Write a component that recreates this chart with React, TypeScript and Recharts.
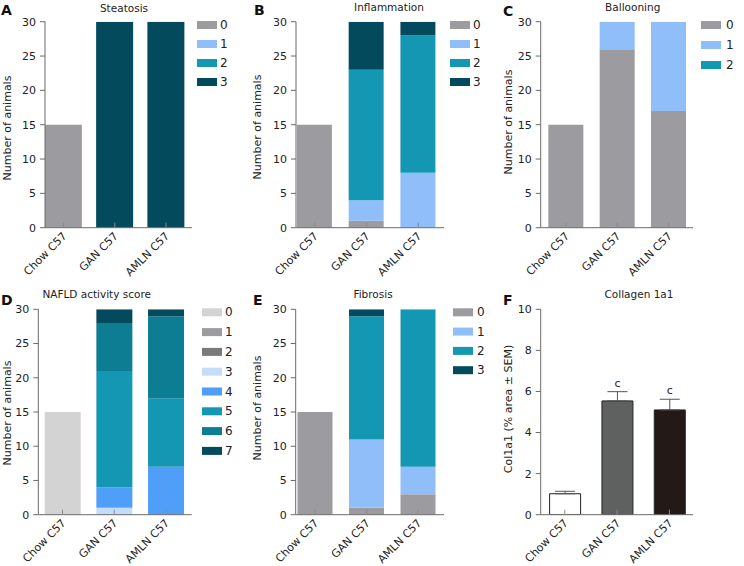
import React from 'react';
import { BarChart, Bar, XAxis, YAxis, ErrorBar, LabelList, Cell } from 'recharts';

const FONT = '"DejaVu Sans", Verdana, sans-serif';

const categories = ['Chow C57', 'GAN C57', 'AMLN C57'];
const countTicks = [0, 5, 10, 15, 20, 25, 30];
const col1a1Ticks = [0, 2, 4, 6, 8, 10];

// A - Steatosis (score 0..3)
const steatosis0 = [15, 0, 0];
const steatosis1 = [0, 0, 0];
const steatosis2 = [0, 0, 0];
const steatosis3 = [0, 30, 30];

// B - Inflammation (score 0..3)
const inflammation0 = [15, 1, 0];
const inflammation1 = [0, 3, 8];
const inflammation2 = [0, 19, 20];
const inflammation3 = [0, 7, 2];

// C - Ballooning (score 0..2)
const ballooning0 = [15, 26, 17];
const ballooning1 = [0, 4, 13];
const ballooning2 = [0, 0, 0];

// D - NAFLD activity score (0..7)
const nas0 = [15, 0, 0];
const nas1 = [0, 0, 0];
const nas2 = [0, 0, 0];
const nas3 = [0, 1, 0];
const nas4 = [0, 3, 7];
const nas5 = [0, 17, 10];
const nas6 = [0, 7, 12];
const nas7 = [0, 2, 1];

// E - Fibrosis (0..3)
const fibrosis0 = [15, 1, 3];
const fibrosis1 = [0, 10, 4];
const fibrosis2 = [0, 18, 23];
const fibrosis3 = [0, 1, 0];

// F - Collagen 1a1
const col1a1Mean = [1.02, 5.54, 5.1];
const col1a1Sem = [0.12, 0.45, 0.52];
const col1a1Sig = ['', 'c', 'c'];

const GREY = '#9c9ca0';
const LBLUE = '#90bef9';
const TEAL = '#1397b3';
const DTEAL = '#034a5d';
const scoreColors4 = [GREY, LBLUE, TEAL, DTEAL];
const nasColors = ['#d3d3d3', '#9c9ca0', '#7a7a7a', '#c5ddf8', '#4f9ef8', '#1397b3', '#0d7d94', '#034a5d'];
const col1a1Colors = ['#ffffff', '#5f6060', '#231a18'];

const AXIS = '#6a6a6a';

function buildTable(series: number[][]) {
  return categories.map((name, i) => {
    const row: any = { idx: i, name };
    series.forEach((s, k) => {
      row['s' + k] = s[i];
    });
    return row;
  });
}

const XTick = (props: any) => {
  const { x, y, payload } = props;
  const label = categories[payload.value] ?? '';
  const tx = x + 4;
  const ty = y + 9;
  return (
    <g>
      <line x1={x} y1={y} x2={x} y2={y - 5} stroke="#8a8a8a" strokeWidth={1} />
      <text
        x={tx}
        y={ty}
        textAnchor="end"
        transform={`rotate(-45, ${tx}, ${ty})`}
        fontSize={11}
        fontFamily={FONT}
        fill="#222"
      >
        {label}
      </text>
    </g>
  );
};

type Box = {
  left: number;
  top: number;
  width: number;
  height: number;
  plotLeft: number;
  plotRight: number;
  plotTop: number;
  plotBottom: number;
};

function chartMargins(b: Box) {
  const xAxisHeight = 40;
  return {
    yAxisWidth: b.plotLeft - b.left,
    xAxisHeight,
    margin: {
      top: b.plotTop - b.top,
      right: b.left + b.width - b.plotRight,
      bottom: b.top + b.height - b.plotBottom - xAxisHeight,
      left: 0,
    },
  };
}

function StackPanel({ box, series, colors, domain, barSize }: { box: Box; series: number[][]; colors: string[]; domain: [number, number]; barSize: number }) {
  const data = buildTable(series);
  const m = chartMargins(box);
  return (
    <div style={{ position: 'absolute', left: box.left, top: box.top }}>
      <BarChart width={box.width} height={box.height} data={data} margin={m.margin} barSize={barSize}>
        <XAxis
          type="number"
          dataKey="idx"
          domain={domain}
          ticks={[0, 1, 2]}
          allowDataOverflow
          height={m.xAxisHeight}
          tick={<XTick />}
          tickLine={false}
          tickSize={0}
          tickMargin={0}
          interval={0}
          stroke={AXIS}
        />
        <YAxis
          type="number"
          domain={[0, 30]}
          ticks={countTicks}
          allowDataOverflow
          width={m.yAxisWidth}
          tickSize={5}
          tickMargin={4}
          stroke={AXIS}
          tick={{ fontSize: 11, fontFamily: FONT, fill: '#222' }}
          interval={0}
        />
        {series.map((_, k) => (
          <Bar key={k} dataKey={'s' + k} stackId="a" fill={colors[k]} isAnimationActive={false} />
        ))}
      </BarChart>
    </div>
  );
}

const SigLabel = (props: any) => {
  const vb = props.viewBox || props;
  const { x, y, width, height } = vb;
  const index = props.index;
  const v = col1a1Mean[index];
  const sig = col1a1Sig[index];
  if (!sig || !v) return null;
  const pxPerUnit = Math.abs(height) / v;
  const top = Math.min(y, y + height) - col1a1Sem[index] * pxPerUnit;
  return (
    <text x={x + width / 2} y={top - 5} textAnchor="middle" fontSize={11} fontFamily={FONT} fill="#222">
      {sig}
    </text>
  );
};

function Col1a1Panel({ box }: { box: Box }) {
  const data = categories.map((name, i) => ({
    idx: i,
    name,
    mean: col1a1Mean[i],
    err: [0, col1a1Sem[i]],
  }));
  const m = chartMargins(box);
  return (
    <div style={{ position: 'absolute', left: box.left, top: box.top }}>
      <BarChart width={box.width} height={box.height} data={data} margin={m.margin} barSize={31}>
        <XAxis
          type="number"
          dataKey="idx"
          domain={[-0.46, 2.45]}
          ticks={[0, 1, 2]}
          allowDataOverflow
          height={m.xAxisHeight}
          tick={<XTick />}
          tickLine={false}
          tickSize={0}
          tickMargin={0}
          interval={0}
          stroke={AXIS}
        />
        <YAxis
          type="number"
          domain={[0, 10]}
          ticks={col1a1Ticks}
          allowDataOverflow
          width={m.yAxisWidth}
          tickSize={5}
          tickMargin={4}
          stroke={AXIS}
          tick={{ fontSize: 11, fontFamily: FONT, fill: '#222' }}
          interval={0}
        />
        <Bar dataKey="mean" isAnimationActive={false} stroke="#222" strokeWidth={1}>
          {data.map((_, i) => (
            <Cell key={i} fill={col1a1Colors[i]} />
          ))}
          <ErrorBar dataKey="err" width={10} stroke="#555" strokeWidth={1} direction="y" />
          <LabelList dataKey="mean" content={<SigLabel />} />
        </Bar>
      </BarChart>
    </div>
  );
}

function Legend({ x, y, step, labels, colors, gap }: { x: number; y: number; step: number; labels: string[]; colors: string[]; gap: number }) {
  return (
    <g>
      {labels.map((l, i) => (
        <g key={i}>
          <rect x={x} y={y + i * step - 4} width={20} height={8} fill={colors[i]} />
          <text x={x + 20 + gap} y={y + i * step} dominantBaseline="central" fontSize={12} fontFamily={FONT} fill="#222">
            {l}
          </text>
        </g>
      ))}
    </g>
  );
}

const Title = ({ x, y, text }: { x: number; y: number; text: string }) => (
  <text x={x} y={y} textAnchor="middle" fontSize={10.5} fontFamily={FONT} fill="#222">
    {text}
  </text>
);

const Letter = ({ x, y, text }: { x: number; y: number; text: string }) => (
  <text x={x} y={y} fontSize={14} fontWeight="bold" fontFamily={FONT} fill="#111">
    {text}
  </text>
);

const YLabel = ({ x, y, text }: { x: number; y: number; text: string }) => (
  <text
    x={x}
    y={y}
    textAnchor="middle"
    dominantBaseline="central"
    transform={`rotate(-90, ${x}, ${y})`}
    fontSize={11}
    fontFamily={FONT}
    fill="#222"
  >
    {text}
  </text>
);

const boxA: Box = { left: 0, top: 0, width: 248, height: 280, plotLeft: 45, plotRight: 192, plotTop: 21.7, plotBottom: 227.7 };
const boxB: Box = { left: 248, top: 0, width: 242, height: 280, plotLeft: 296, plotRight: 444, plotTop: 21.7, plotBottom: 227.7 };
const boxC: Box = { left: 490, top: 0, width: 254, height: 280, plotLeft: 540.7, plotRight: 693, plotTop: 21.7, plotBottom: 227.7 };
const boxD: Box = { left: 0, top: 280, width: 248, height: 286, plotLeft: 38.3, plotRight: 191.7, plotTop: 309.3, plotBottom: 514.7 };
const boxE: Box = { left: 248, top: 280, width: 242, height: 286, plotLeft: 295.7, plotRight: 444, plotTop: 309.3, plotBottom: 514.7 };
const boxF: Box = { left: 490, top: 280, width: 254, height: 286, plotLeft: 540.7, plotRight: 693, plotTop: 309.3, plotBottom: 514.7 };

export default function App() {
  return (
    <div style={{ position: 'absolute', left: 0, top: 0, width: 744, height: 566, background: '#fff', overflow: 'hidden' }}>
      <StackPanel box={boxA} series={[steatosis0, steatosis1, steatosis2, steatosis3]} colors={scoreColors4} domain={[-0.361, 2.507]} barSize={37} />
      <StackPanel box={boxB} series={[inflammation0, inflammation1, inflammation2, inflammation3]} colors={scoreColors4} domain={[-0.363, 2.497]} barSize={35} />
      <StackPanel box={boxC} series={[ballooning0, ballooning1, ballooning2]} colors={scoreColors4} domain={[-0.493, 2.474]} barSize={35} />
      <StackPanel box={boxD} series={[nas0, nas1, nas2, nas3, nas4, nas5, nas6, nas7]} colors={nasColors} domain={[-0.469, 2.5]} barSize={36} />
      <StackPanel box={boxE} series={[fibrosis0, fibrosis1, fibrosis2, fibrosis3]} colors={scoreColors4} domain={[-0.38, 2.5]} barSize={35} />
      <Col1a1Panel box={boxF} />
      <svg width={744} height={566} style={{ position: 'absolute', left: 0, top: 0, pointerEvents: 'none' }}>
        <Letter x={1} y={15} text="A" />
        <Letter x={254} y={15} text="B" />
        <Letter x={503} y={15.5} text="C" />
        <Letter x={1} y={305} text="D" />
        <Letter x={253} y={304.5} text="E" />
        <Letter x={503} y={304.5} text="F" />

        <Title x={124} y={11.5} text="Steatosis" />
        <Title x={389} y={10.7} text="Inflammation" />
        <Title x={632.7} y={10.7} text="Ballooning" />
        <Title x={96.7} y={298} text="NAFLD activity score" />
        <Title x={373} y={298.3} text="Fibrosis" />
        <Title x={639} y={297.5} text="Collagen 1a1" />

        <YLabel x={7} y={128} text="Number of animals" />
        <YLabel x={257.7} y={127} text="Number of animals" />
        <YLabel x={508} y={122} text="Number of animals" />
        <YLabel x={7} y={413} text="Number of animals" />
        <YLabel x={257.5} y={408} text="Number of animals" />
        <YLabel x={508} y={409} text="Col1a1 (% area ± SEM)" />

        <Legend x={197} y={25} step={19} labels={['0', '1', '2', '3']} colors={scoreColors4} gap={3} />
        <Legend x={450} y={25} step={19} labels={['0', '1', '2', '3']} colors={scoreColors4} gap={3} />
        <Legend x={701} y={25} step={20} labels={['0', '1', '2']} colors={scoreColors4} gap={5} />
        <Legend x={202} y={312.3} step={19.8} labels={['0', '1', '2', '3', '4', '5', '6', '7']} colors={nasColors} gap={3} />
        <Legend x={453} y={312.3} step={19.3} labels={['0', '1', '2', '3']} colors={scoreColors4} gap={4} />
      </svg>
    </div>
  );
}
